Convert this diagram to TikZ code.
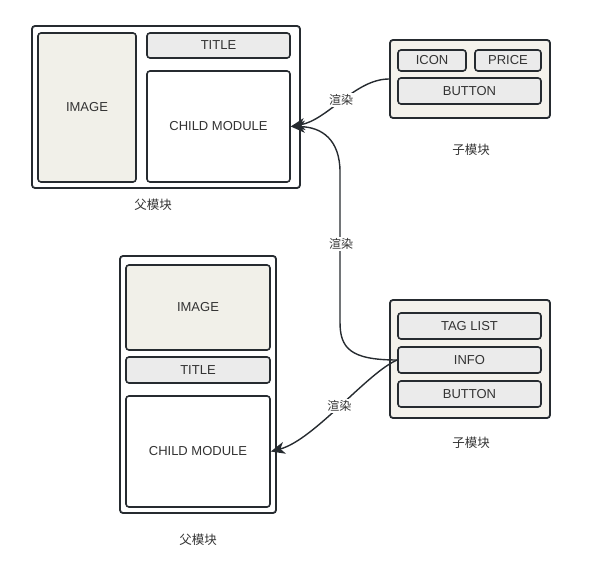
\documentclass[tikz,border=0pt]{standalone}
\usepackage{fontspec}
\setmainfont{Liberation Sans}
\newfontfamily\cjk{Noto Sans CJK SC}
\usetikzlibrary{arrows.meta}
\definecolor{linec}{HTML}{262B30}
\definecolor{txtc}{HTML}{333333}
\definecolor{imgfill}{HTML}{F1F0E9}
\definecolor{greyfill}{HTML}{EBEBEB}
\definecolor{childfill}{HTML}{F4F2EC}
\tikzset{
  outerbox/.style={draw=linec, line width=1.8pt, rounded corners=3pt, inner sep=0pt, rectangle},
  innerbox/.style={draw=linec, line width=1.6pt, rounded corners=3pt, inner sep=0pt, rectangle, text=txtc, font=\fontsize{13}{15}\selectfont},
  caption/.style={text=txtc, font=\cjk\fontsize{12.5}{14}\selectfont, inner sep=1pt},
  edgelabel/.style={fill=white, text=txtc, font=\cjk\fontsize{12}{14}\selectfont, inner sep=1.5pt},
  conn/.style={draw=linec, line width=1.4pt, -{Stealth[length=14pt,width=12pt,inset=4pt]}}
}
\begin{document}
\begin{tikzpicture}[x=1pt,y=-1pt]
\useasboundingbox (0,0) rectangle (591,561);
% top parent
\node[outerbox, fill=white, minimum width=268pt, minimum height=162pt] (p1) at (166,107) {};
\node[innerbox, fill=imgfill, minimum width=98pt, minimum height=149pt] (img1) at (87,107.5) {IMAGE};
\node[innerbox, fill=greyfill, minimum width=143pt, minimum height=25pt] (title1) at (218.5,45.5) {TITLE};
\node[innerbox, fill=white, minimum width=143pt, minimum height=111pt] (cm1) at (218.5,126.5) {CHILD MODULE};
\node[caption] (cap1) at (153,205) {父模块};
% top child
\node[outerbox, fill=childfill, minimum width=160pt, minimum height=78pt] (c1) at (470,79) {};
\node[innerbox, fill=greyfill, minimum width=68pt, minimum height=21pt] (icon) at (432,60.5) {ICON};
\node[innerbox, fill=greyfill, minimum width=66pt, minimum height=21pt] (price) at (508,60.5) {PRICE};
\node[innerbox, fill=greyfill, minimum width=143pt, minimum height=26pt] (btn1) at (469.5,91) {BUTTON};
\node[caption] (cap2) at (471,150) {子模块};
% bottom parent
\node[outerbox, fill=white, minimum width=156pt, minimum height=257pt] (p2) at (198,384.5) {};
\node[innerbox, fill=imgfill, minimum width=144pt, minimum height=85pt] (img2) at (198,307.5) {IMAGE};
\node[innerbox, fill=greyfill, minimum width=144pt, minimum height=26pt] (title2) at (198,370) {TITLE};
\node[innerbox, fill=white, minimum width=144pt, minimum height=111pt] (cm2) at (198,451.5) {CHILD MODULE};
\node[caption] (cap3) at (198,540) {父模块};
% bottom child
\node[outerbox, fill=childfill, minimum width=160pt, minimum height=118pt] (c2) at (470,359) {};
\node[innerbox, fill=greyfill, minimum width=143pt, minimum height=26pt] (tag) at (469.5,326) {TAG LIST};
\node[innerbox, fill=greyfill, minimum width=143pt, minimum height=26pt] (info) at (469.5,360) {INFO};
\node[innerbox, fill=greyfill, minimum width=143pt, minimum height=26pt] (btn2) at (469.5,394) {BUTTON};
\node[caption] (cap4) at (471,443) {子模块};
% connectors
\coordinate (v1) at (340,322);
\coordinate (v2) at (340,172);
\draw[conn] (c1.west) .. controls (355,79) and (328,120) .. (cm1.east)
  node[edgelabel, pos=0.5] {渲染};
\draw[conn] (info.west) .. controls (350,360) and (340,348) .. (v1) -- (v2)
  .. controls (340,140) and (322,127) .. (cm1.east);
\node[edgelabel] (lab2) at (341,244) {渲染};
\draw[conn] (info.west) .. controls (368,372) and (314,440) .. (cm2.east)
  node[edgelabel, pos=0.5] {渲染};
\end{tikzpicture}
\end{document}
